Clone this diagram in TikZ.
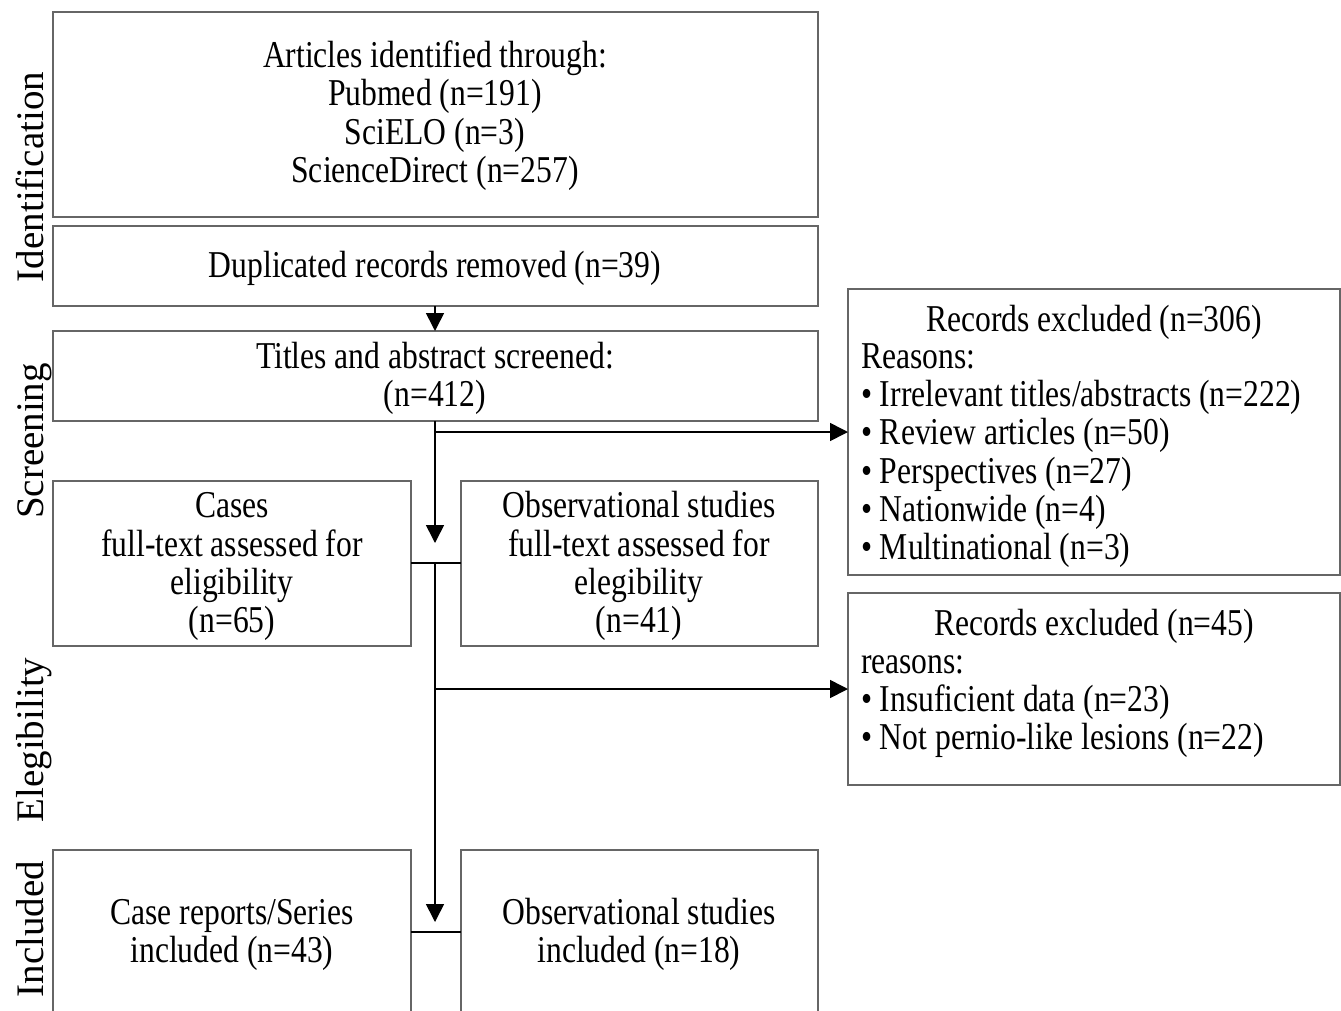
\documentclass[tikz,border=0pt]{standalone}
\usepackage{fontspec}
\setmainfont{Liberation Serif}
\usepackage{graphicx}
\usetikzlibrary{arrows.meta}
\begin{document}
\begin{tikzpicture}[x=1pt,y=-1pt,
  boxstyle/.style={draw=black!60, line width=1.3pt, inner sep=0pt, outer sep=0pt},
  txt/.style={font=\fontsize{31.6}{31.67}\selectfont, yscale=1.2, inner sep=0pt, outer sep=0pt},
  side/.style={font=\fontsize{39}{39}\selectfont, rotate=90, anchor=base, inner sep=0pt},
  conn/.style={line width=1.6pt, black},
  arr/.style={conn, -{Triangle[length=18pt,width=18pt]}}
]
\useasboundingbox (0,0) rectangle (1341,1010);
\fill[white] (0,0) rectangle (1341,1010);

% boxes
\node[boxstyle, minimum width=765pt, minimum height=205pt, anchor=north west] (b1) at (53,12) {};
\node[boxstyle, minimum width=765pt, minimum height=80pt, anchor=north west] (b2) at (53,226) {};
\node[boxstyle, minimum width=765pt, minimum height=90pt, anchor=north west] (b3) at (53,331) {};
\node[boxstyle, minimum width=492pt, minimum height=286pt, anchor=north west] (r1) at (848,289) {};
\node[boxstyle, minimum width=358pt, minimum height=165pt, anchor=north west] (c1) at (53,481) {};
\node[boxstyle, minimum width=357pt, minimum height=165pt, anchor=north west] (o1) at (461,481) {};
\node[boxstyle, minimum width=492pt, minimum height=192pt, anchor=north west] (r2) at (848,593) {};
\node[boxstyle, minimum width=358pt, minimum height=180pt, anchor=north west] (c2) at (53,850) {};
\node[boxstyle, minimum width=357pt, minimum height=180pt, anchor=north west] (o2) at (461,850) {};

% texts (anchor base = baseline of the last line)
\node[txt, anchor=base, align=center] (t1) at (435,182) {Articles identified through:\\Pubmed (n=191)\\SciELO (n=3)\\ScienceDirect (n=257)};
\node[txt, anchor=base] (t2) at (435,277) {Duplicated records removed (n=39)};
\node[txt, anchor=base, align=center] (t3) at (435,406) {Titles and abstract screened:\\(n=412)};
\node[txt, anchor=base] (tr1) at (1094,331) {Records excluded (n=306)};
\node[txt, anchor=base west, align=left] (tr1b) at (861,559) {Reasons:\\\textbullet\ Irrelevant titles/abstracts (n=222)\\\textbullet\ Review articles (n=50)\\\textbullet\ Perspectives (n=27)\\\textbullet\ Nationwide (n=4)\\\textbullet\ Multinational (n=3)};
\node[txt, anchor=base, align=center] (tc1) at (232,632) {Cases\\full-text assessed for\\eligibility\\(n=65)};
\node[txt, anchor=base, align=center] (to1) at (639,632) {Observational studies\\full-text assessed for\\elegibility\\(n=41)};
\node[txt, anchor=base] (tr2) at (1094,635) {Records excluded (n=45)};
\node[txt, anchor=base west, align=left] (tr2b) at (861,749) {reasons:\\\textbullet\ Insuficient data (n=23)\\\textbullet\ Not pernio-like lesions (n=22)};
\node[txt, anchor=base, align=center] (tc2) at (232,962) {Case reports/Series\\included (n=43)};
\node[txt, anchor=base, align=center] (to2) at (639,962) {Observational studies\\included (n=18)};

% side labels
\node[side] (s1) at (43,177) {Identification};
\node[side] (s2) at (43,441) {Screening};
\node[side] (s3) at (43,740) {Elegibility};
\node[side] (s4) at (43,929) {Included};

% connectors
\coordinate (j1) at (435,432);
\coordinate (a1) at (435,543);
\coordinate (j2) at (435,563);
\coordinate (j3) at (435,689);
\coordinate (a2) at (435,922);
\coordinate (j4) at (435,932);
\draw[arr] (b2.south -| j1) -- (b3.north -| j1);
\draw[arr] (b3.south -| j1) -- (a1);
\draw[arr] (j1) -- (j1 -| r1.west);
\draw[conn] (c1.east |- j2) -- (o1.west |- j2);
\draw[arr] (j2) -- (a2);
\draw[arr] (j3) -- (j3 -| r2.west);
\draw[conn] (c2.east |- j4) -- (o2.west |- j4);
\end{tikzpicture}
\end{document}
